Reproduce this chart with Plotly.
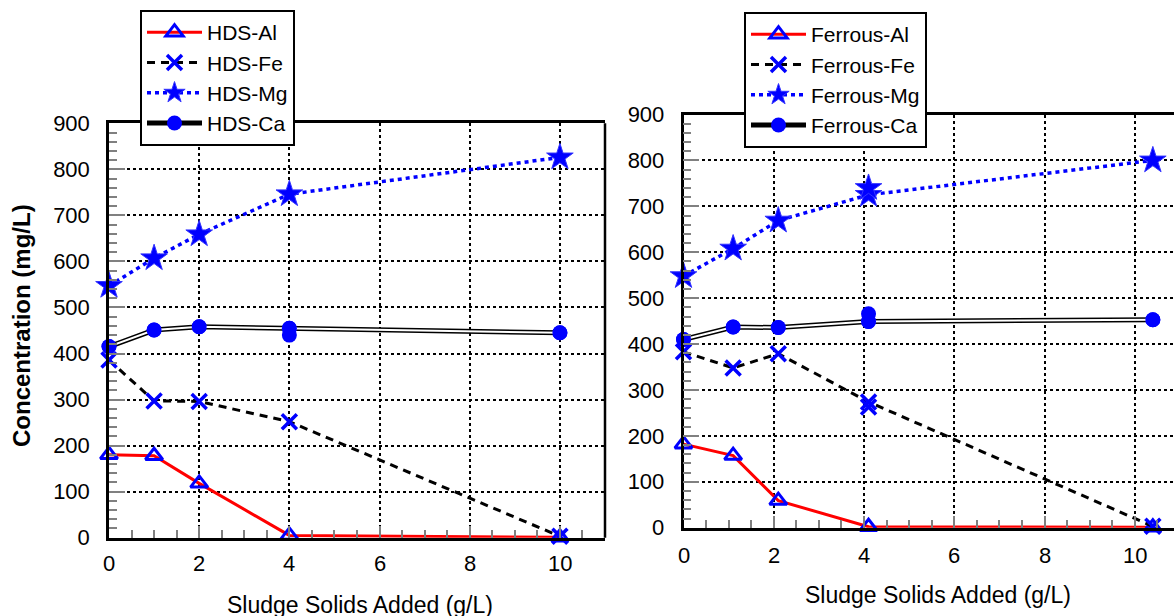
import plotly.graph_objects as go

W, H = 1174, 616

# ---------------- data ----------------
hds_x = [0, 1, 2, 4, 10]
hds_al = [180, 178, 118, 5, 1]
hds_fe = [386, 297, 296, 252, 3]
hds_mg = [547, 607, 659, 746, 826]
hds_ca = [415, 451, 458, 455, 445]
hds_rep_x = [4]
hds_ca_rep = [440]

fer_x = [0, 1.1, 2.1, 4.1, 10.4]
fer_al = [182, 157, 59, 2, 1]
fer_fe = [383, 348, 379, 274, 3]
fer_mg = [548, 608, 669, 725, 800]
fer_ca = [410, 437, 436, 449, 453]
fer_rep_x = [4.1]
fer_fe_rep = [263]
fer_mg_rep = [740]
fer_ca_rep = [466]

y_ticks = [0, 100, 200, 300, 400, 500, 600, 700, 800, 900]
x_ticks = [0, 2, 4, 6, 8, 10]

FONT = "Arial, 'Liberation Sans', sans-serif"
BLUE = "#0000FF"

fig = go.Figure()


def add_panel(xs, al, fe, mg, ca, names, xa, ya, leg, rep=None):
    common = dict(xaxis=xa, yaxis=ya, cliponaxis=False)
    fig.add_trace(go.Scatter(x=xs, y=al, name=names[0], mode="lines+markers",
                             line=dict(color="#FF0000", width=3),
                             marker=dict(symbol="triangle-up-open", size=15, color=BLUE,
                                         line=dict(width=3, color=BLUE)),
                             legend=leg, **common))
    fig.add_trace(go.Scatter(x=xs, y=fe, name=names[1], mode="lines+markers",
                             line=dict(color="black", width=3, dash="8px,6px"),
                             marker=dict(symbol="x-thin-open", size=15, color=BLUE,
                                         line=dict(width=3.5, color=BLUE)),
                             legend=leg, **common))
    fig.add_trace(go.Scatter(x=xs, y=mg, name=names[2], mode="lines+markers",
                             line=dict(color=BLUE, width=3.5, dash="4px,4px"),
                             marker=dict(symbol="star", size=20, color=BLUE,
                                         line=dict(width=1, color="#3333FF")),
                             legend=leg, **common))
    fig.add_trace(go.Scatter(x=xs, y=ca, name=names[3], mode="lines+markers",
                             line=dict(color="black", width=5),
                             marker=dict(symbol="circle", size=15, color=BLUE),
                             legend=leg, **common))
    fig.add_trace(go.Scatter(x=xs, y=ca, mode="lines", showlegend=False,
                             line=dict(color="white", width=2), hoverinfo="skip", **common))
    fig.add_trace(go.Scatter(x=xs, y=ca, mode="markers", showlegend=False,
                             marker=dict(symbol="circle", size=15, color=BLUE), **common))
    if rep:
        for rx, ry, kind in rep:
            if kind == "fe":
                mk = dict(symbol="x-thin-open", size=15, color=BLUE, line=dict(width=3.5, color=BLUE))
            elif kind == "mg":
                mk = dict(symbol="star", size=20, color=BLUE, line=dict(width=1, color="#3333FF"))
            else:
                mk = dict(symbol="circle", size=15, color=BLUE)
            fig.add_trace(go.Scatter(x=rx, y=ry, mode="markers", showlegend=False,
                                     marker=mk, **common))


add_panel(hds_x, hds_al, hds_fe, hds_mg, hds_ca,
          ["HDS-Al", "HDS-Fe", "HDS-Mg", "HDS-Ca"], "x", "y", "legend",
          rep=[(hds_rep_x, hds_ca_rep, "ca")])
add_panel(fer_x, fer_al, fer_fe, fer_mg, fer_ca,
          ["Ferrous-Al", "Ferrous-Fe", "Ferrous-Mg", "Ferrous-Ca"], "x2", "y2", "legend2",
          rep=[(fer_rep_x, fer_fe_rep, "fe"), (fer_rep_x, fer_mg_rep, "mg"),
               (fer_rep_x, fer_ca_rep, "ca")])

tickfont = dict(family=FONT, size=22, color="black")


def xaxis(domain, rng, anchor):
    return dict(domain=domain, range=rng, tickvals=x_ticks, showticklabels=False,
                anchor=anchor, automargin=False,
                showgrid=True, gridcolor="black", gridwidth=2, griddash="dot",
                zeroline=False, showline=True, linecolor="black", linewidth=2.5, mirror=True,
                ticks="inside", ticklen=12, tickwidth=1.5, tickcolor="#808080",
                minor=dict(ticks="inside", ticklen=8, dtick=0.5, tickcolor="#808080", tickwidth=1.5,
                           showgrid=False),
                fixedrange=True)


def yaxis(domain, anchor):
    return dict(domain=domain, range=[0, 900], tickvals=y_ticks, anchor=anchor, automargin=False,
                showgrid=True, gridcolor="black", gridwidth=2, griddash="dot",
                zeroline=False, showline=True, linecolor="black", linewidth=2.5, mirror=False,
                ticks="inside", ticklen=16, tickwidth=1.5, tickcolor="#808080",
                minor=dict(ticks="inside", ticklen=8, dtick=20, tickcolor="#808080", tickwidth=1.5,
                           showgrid=False),
                tickfont=tickfont, ticklabelstandoff=12, fixedrange=True)


L_x0, L_x1 = 109, 605
L_y0, L_y1 = 537.7, 123.3
R_x0 = 683.5
R_y0, R_y1 = 527.7, 114.5
R_scale = 45.13

legfont = dict(family=FONT, size=21, color="black")

fig.update_layout(
    template="none",
    width=W, height=H, margin=dict(l=0, r=0, t=0, b=0, autoexpand=False),
    paper_bgcolor="white", plot_bgcolor="white",
    font=dict(family=FONT, color="black"),
    xaxis=xaxis([L_x0 / W, L_x1 / W], [0, 11], "y"),
    yaxis=yaxis([1 - L_y0 / H, 1 - L_y1 / H], "x"),
    xaxis2=xaxis([R_x0 / W, 1.0], [0, (W - R_x0) / R_scale], "y2"),
    yaxis2=yaxis([1 - R_y0 / H, 1 - R_y1 / H], "x2"),
    legend=dict(x=140 / W, y=1 - 10 / H, xanchor="left", yanchor="top",
                bordercolor="black", borderwidth=2, bgcolor="white",
                font=legfont, itemwidth=55, tracegroupgap=0),
    legend2=dict(x=744 / W, y=1 - 12 / H, xanchor="left", yanchor="top",
                 bordercolor="black", borderwidth=2, bgcolor="white",
                 font=legfont, itemwidth=55, tracegroupgap=0),
    showlegend=True,
)

# right border of the left panel (the right panel is cut by the window edge)
fig.add_shape(type="line", xref="x domain", yref="y domain", x0=1, x1=1, y0=0, y1=1,
              line=dict(color="black", width=2.5))

# x tick labels, placed on each panel's x scale
for xref, ypix in (("x", 563), ("x2", 555)):
    for v in x_ticks:
        fig.add_annotation(text=str(v), x=v, xref=xref, y=1 - ypix / H, yref="paper",
                           showarrow=False, xanchor="center", yanchor="middle",
                           font=tickfont)

fig.add_annotation(text="Concentration (mg/L)", xref="paper", yref="paper",
                   x=21 / W, y=1 - 326 / H, textangle=-90, showarrow=False,
                   xanchor="center", yanchor="middle",
                   font=dict(family=FONT, size=24, color="black", weight="bold"))
fig.add_annotation(text="Sludge Solids Added (g/L)", xref="paper", yref="paper",
                   x=360 / W, y=1 - 605 / H, showarrow=False,
                   xanchor="center", yanchor="middle",
                   font=dict(family=FONT, size=23, color="black"))
fig.add_annotation(text="Sludge Solids Added (g/L)", xref="paper", yref="paper",
                   x=938 / W, y=1 - 595 / H, showarrow=False,
                   xanchor="center", yanchor="middle",
                   font=dict(family=FONT, size=23, color="black"))

fig.write_html("out.html")
